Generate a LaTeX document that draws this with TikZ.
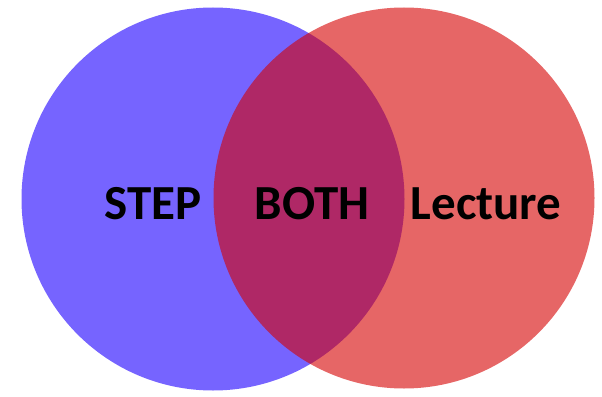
\documentclass[tikz,border=0pt]{standalone}
\usepackage{fontspec}
\setmainfont{Carlito}
\usepackage{tikz}
\usetikzlibrary{positioning}
\definecolor{stepblue}{RGB}{118,100,255}
\definecolor{lecred}{RGB}{213,0,0}

\begin{document}
\begin{tikzpicture}[x=1pt, y=-1pt,
  insieme/.style={circle, minimum size=383pt, inner sep=0pt},
  etichetta/.style={font=\fontsize{49}{58}\selectfont\bfseries, text=black, inner sep=0pt}]
\useasboundingbox (0,0) rectangle (602,396);
\node[insieme, fill=stepblue] (step) at (213,199) {};
\node[insieme, fill=lecred, fill opacity=0.6, minimum size=381pt] (lecture) at (404,198) {};
\node[etichetta] (lstep) at (153,204) {STEP};
\node[etichetta] (lboth) at (312,204) {BOTH};
\node[etichetta] (llec) at (486,204) {Lecture};
\end{tikzpicture}
\end{document}
